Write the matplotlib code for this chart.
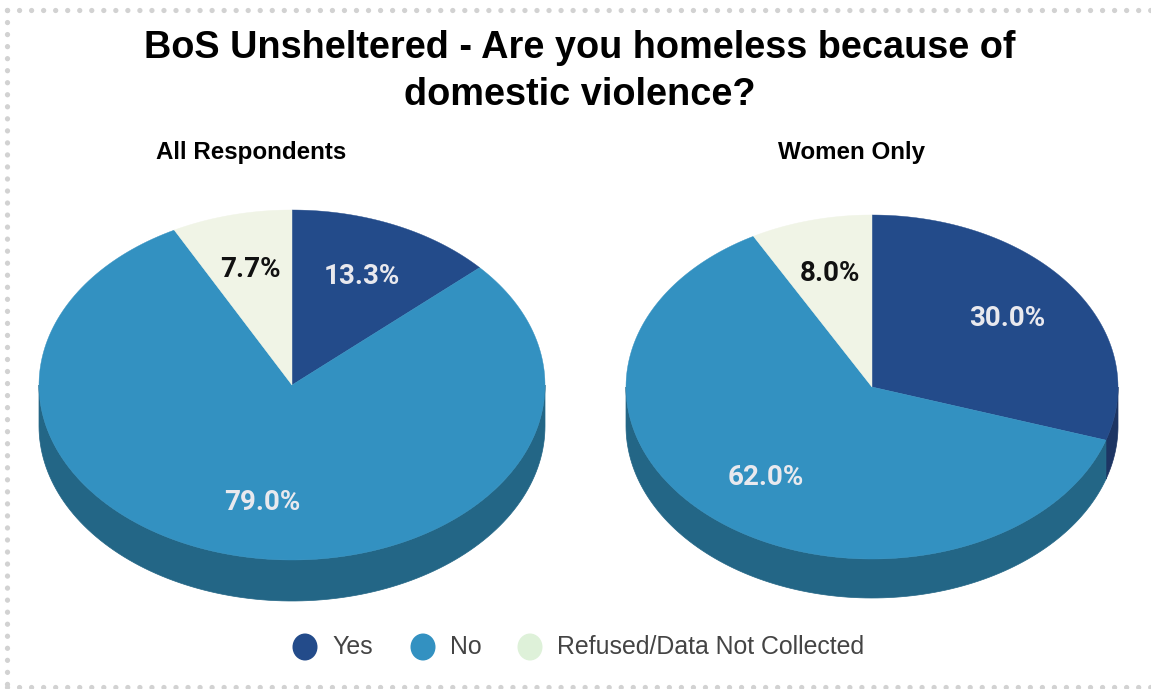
import numpy as np
import matplotlib.pyplot as plt
from matplotlib.patches import Polygon, Ellipse
from matplotlib.lines import Line2D

# Survey answers, in percent
categories = ["Yes", "No", "Refused/Data Not Collected"]
all_respondents = [13.3, 79.0, 7.7]
women_only = [30.0, 62.0, 8.0]
panel_titles = ["All Respondents", "Women Only"]

top_colors = ["#234b8a", "#3391c1", "#f0f4e6"]
side_colors = ["#1d3563", "#236686", "#c8ccc0"]
legend_colors = ["#234b8a", "#3391c1", "#def1d9"]
label_colors = ["#e9e9ee", "#e9e9ee", "#111111"]

W, H = 1151, 689
fig = plt.figure(figsize=(W / 100, H / 100), dpi=100)
ax = fig.add_axes([0, 0, 1, 1])
ax.set_xlim(0, W)
ax.set_ylim(H, 0)
ax.axis("off")


def ell(cx, cy, rx, ry, t):
    r = np.radians(t)
    return cx + rx * np.cos(r), cy - ry * np.sin(r)


def pie3d(ax, values, cx, cy, rx, ry, depth):
    total = sum(values)
    start = 90.0
    spans = []
    for v in values:
        end = start - 360.0 * v / total
        spans.append((end, start))
        start = end

    # side wall, only the front half (180..360 deg) is visible
    for (t1, t0), sc in zip(spans, side_colors):
        for k in range(-2, 2):
            a = max(t1, 180 + 360 * k)
            b = min(t0, 360 + 360 * k)
            if b - a <= 0:
                continue
            ts = np.linspace(a, b, 120)
            x, y = ell(cx, cy, rx, ry, ts)
            pts = np.column_stack([np.r_[x, x[::-1]], np.r_[y, y[::-1] + depth]])
            ax.add_patch(Polygon(pts, closed=True, fc=sc, ec=sc, lw=0.5))

    # top face
    for (t1, t0), tc in zip(spans, top_colors):
        ts = np.linspace(t0, t1, 200)
        x, y = ell(cx, cy, rx, ry, ts)
        pts = np.column_stack([np.r_[cx, x], np.r_[cy, y]])
        ax.add_patch(Polygon(pts, closed=True, fc=tc, ec=tc, lw=0.3))

    # percentage labels
    for (t1, t0), v, lc in zip(spans, values, label_colors):
        tm = (t0 + t1) / 2
        lx, ly = ell(cx, cy, rx * 0.68, ry * 0.68, tm)
        ax.text(lx, ly, f"{v:.1f}%", ha="center", va="center", fontsize=20,
                family="Roboto", weight="bold", color=lc)


pie3d(ax, all_respondents, 292, 385, 253, 175, 41)
pie3d(ax, women_only, 872, 387, 246, 172, 39)

ax.text(580, 48, "BoS Unsheltered - Are you homeless because of", ha="center",
        va="center", fontsize=27.3, weight="bold", family="Liberation Sans")
ax.text(580, 95, "domestic violence?", ha="center", va="center", fontsize=27.3,
        weight="bold", family="Liberation Sans")
ax.text(251, 152, panel_titles[0], ha="center", va="center", fontsize=17.4,
        weight="bold", family="Liberation Sans")
ax.text(852, 152, panel_titles[1], ha="center", va="center", fontsize=17.4,
        weight="bold", family="Liberation Sans")

# legend
marker_x = [305, 423, 530]
for mx, name, c in zip(marker_x, categories, legend_colors):
    ax.add_patch(Ellipse((mx, 647), 25, 27, fc=c, ec="none"))
    ax.text(mx + 27, 647, name, ha="left", va="center", fontsize=17.9,
            family="Liberation Sans", color="#444444")

# dotted frame
dot = dict(color="#d2d2d2", lw=3.8, ls=(0, (0.01, 2.27)), dash_capstyle="round")
ax.add_line(Line2D([7, W], [10, 10], **dot))
ax.add_line(Line2D([7, 7], [10, 687], **dot))
ax.add_line(Line2D([7, W], [687, 687], **dot))

fig.savefig("out.png", dpi=100)
